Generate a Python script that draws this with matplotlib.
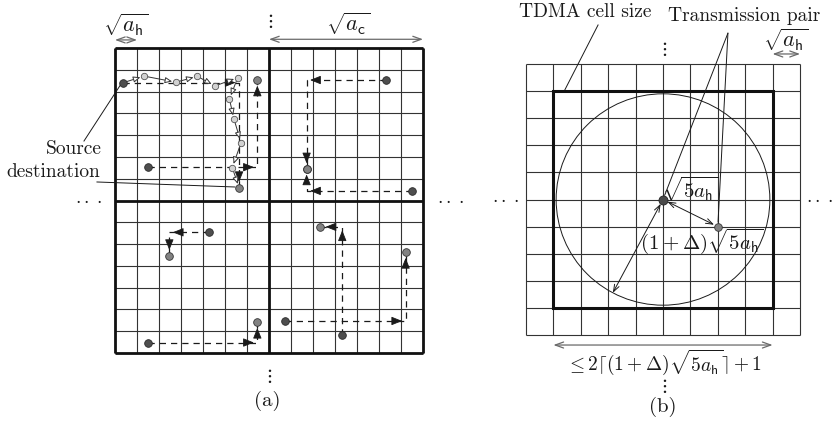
import numpy as np
import matplotlib
matplotlib.use("Agg")
import matplotlib.pyplot as plt
from matplotlib.patches import Circle, Rectangle

plt.rcParams['mathtext.fontset'] = 'cm'
SERIF = 'cmr10'
INK = '#1a1a1a'

W, H = 837, 430

# ---------------- panel (a): 14x14 a_h cells, 2x2 a_c cells ----------------
n_a = 14
split_a = 7
# multihop route of one pair: source, relays, destination (grid units, y down)
hop_x = [0.38, 1.32, 2.77, 3.74, 4.55, 5.58, 5.20, 5.41, 5.73, 5.33, 5.64]
hop_y = [1.59, 1.29, 1.57, 1.30, 1.74, 1.36, 2.34, 3.27, 4.35, 5.49, 6.41]
# L-shaped routes: source -> corner -> destination
routes_a = [
    [(0.38, 1.59), (5.64, 1.59), (5.64, 6.41)],
    [(1.51, 5.47), (6.47, 5.47), (6.47, 1.47)],
    [(12.30, 1.47), (8.71, 1.47), (8.71, 5.55)],
    [(13.49, 6.56), (8.71, 6.56), (8.71, 5.55)],
    [(4.27, 8.46), (2.47, 8.46), (2.47, 9.53)],
    [(1.51, 13.52), (6.47, 13.52), (6.47, 12.59)],
    [(10.33, 13.17), (10.33, 8.21), (9.32, 8.21)],
    [(7.73, 12.53), (13.21, 12.53), (13.21, 9.38)],
]

# ---------------- panel (b): 10x10 a_h cells, TDMA cell ----------------
n_b = 10
tdma_lo, tdma_hi = 1, 9
center_b = (5.0, 5.0)
pair_b = (7.0, 6.0)
radius_b = 3.9
diam_angle = 118.0  # degrees, y pointing down

SRC_C = '#4e4e4e'
DST_C = '#828282'
RELAY_C = '#d2d2d2'
HDOTS = r'$\cdot\cdot\cdot$'

fig = plt.figure(figsize=(W / 100, H / 100), dpi=100)


def add_axes_px(x0, y0, x1, y1, n):
    ax = fig.add_axes([x0 / W, 1 - y1 / H, (x1 - x0) / W, (y1 - y0) / H])
    ax.set_xlim(0, n)
    ax.set_ylim(n, 0)
    ax.set_axis_off()
    return ax


def grid(ax, n, lw=0.8, color='#333333'):
    ticks = np.arange(n + 1)
    ax.vlines(ticks, 0, n, colors=color, lw=lw, clip_on=False, zorder=1)
    ax.hlines(ticks, 0, n, colors=color, lw=lw, clip_on=False, zorder=1)


def head(ax, start, end, shrink=0.0, fc=INK):
    d = np.array(end) - np.array(start)
    d = d / np.hypot(*d)
    tail = np.array(end) - 0.4 * d
    ax.annotate('', xy=end, xytext=tail,
                arrowprops=dict(arrowstyle='-|>,head_length=0.55,head_width=0.22',
                                mutation_scale=12, fc=fc, ec=INK, lw=0.6,
                                shrinkA=0, shrinkB=shrink),
                annotation_clip=False, zorder=4)


def dim_arrow(ax, p0, p1, color='#6a6a6a'):
    ax.annotate('', xy=p1, xytext=p0,
                arrowprops=dict(arrowstyle='<->,head_length=0.5,head_width=0.18',
                                mutation_scale=12, color=color, lw=0.9,
                                shrinkA=0, shrinkB=0),
                annotation_clip=False)


def label(ax, x, y, s, size=14, **kw):
    kw.setdefault('ha', 'center')
    kw.setdefault('va', 'center')
    if not s.startswith('$'):
        kw['family'] = SERIF
    ax.text(x, y, s, fontsize=size, color=INK, clip_on=False, **kw)


# ======================= panel (a) =======================
ax_a = add_axes_px(115, 48, 423, 353, n_a)
grid(ax_a, n_a)
ax_a.vlines([0, split_a, n_a], 0, n_a, colors='#111111', lw=2.0, clip_on=False, zorder=2)
ax_a.hlines([0, split_a, n_a], 0, n_a, colors='#111111', lw=2.0, clip_on=False, zorder=2)

for route in routes_a:
    xs, ys = zip(*route)
    ax_a.plot(xs, ys, ls=(0, (5, 4)), color=INK, lw=0.9, clip_on=False, zorder=3)
    for i in range(len(route) - 1):
        last = i == len(route) - 2
        head(ax_a, route[i], route[i + 1], shrink=4.0 if last else 2.5)
    ax_a.plot(*route[0], 'o', ms=5.5, mfc=SRC_C, mec='#2a2a2a', mew=0.6, clip_on=False, zorder=6)
    ax_a.plot(*route[-1], 'o', ms=5.5, mfc=DST_C, mec='#333333', mew=0.6, clip_on=False, zorder=6)

# multihop relay path
for i in range(len(hop_x) - 1):
    ax_a.annotate('', xy=(hop_x[i + 1], hop_y[i + 1]), xytext=(hop_x[i], hop_y[i]),
                  arrowprops=dict(arrowstyle='-|>,head_length=0.7,head_width=0.3',
                                  mutation_scale=6, fc='white', ec='#333333', lw=0.7,
                                  shrinkA=2.5, shrinkB=2.8),
                  annotation_clip=False, zorder=5)
ax_a.plot(hop_x[1:-1], hop_y[1:-1], 'o', ms=4.6, mfc=RELAY_C, mec='#555555', mew=0.6,
          clip_on=False, zorder=6)

# dimensions
dim_arrow(ax_a, (0, -0.37), (1, -0.37))
label(ax_a, 0.5, -1.05, r'$\sqrt{a_\mathsf{h}}$', size=16)
dim_arrow(ax_a, (split_a, -0.4), (n_a, -0.4))
label(ax_a, 10.6, -1.1, r'$\sqrt{a_\mathsf{c}}$', size=16)

# continuation dots
label(ax_a, split_a, -1.25, r'$\vdots$')
label(ax_a, split_a - 0.05, 15.05, r'$\vdots$')
label(ax_a, -1.23, 6.95, HDOTS)
label(ax_a, 15.25, 6.95, HDOTS)
label(ax_a, split_a - 0.1, 16.2, '(a)', size=15)

# source / destination callout
label(ax_a, -0.62, 4.66, 'Source', ha='right')
label(ax_a, -0.66, 5.68, 'destination', ha='right')
ax_a.plot([-1.41, 0.27], [4.27, 1.66], color=INK, lw=0.7, clip_on=False)
ax_a.plot([-0.82, 5.45], [6.15, 6.38], color=INK, lw=0.7, clip_on=False)

# ======================= panel (b) =======================
ax_b = add_axes_px(526, 64, 800, 335, n_b)
grid(ax_b, n_b)
ax_b.add_patch(Rectangle((tdma_lo, tdma_lo), tdma_hi - tdma_lo, tdma_hi - tdma_lo,
                         fill=False, ec='#111111', lw=2.2, clip_on=False, zorder=2))
ax_b.add_patch(Circle(center_b, radius_b, fill=False, ec=INK, lw=0.7, clip_on=False, zorder=3))

rim = (center_b[0] + radius_b * np.cos(np.radians(diam_angle)),
       center_b[1] + radius_b * np.sin(np.radians(diam_angle)))
ax_b.annotate('', xy=rim, xytext=center_b,
              arrowprops=dict(arrowstyle='<->,head_length=0.5,head_width=0.18',
                              mutation_scale=10, color=INK, lw=0.7,
                              shrinkA=3.5, shrinkB=0),
              annotation_clip=False, zorder=4)
ax_b.annotate('', xy=pair_b, xytext=center_b,
              arrowprops=dict(arrowstyle='<->,head_length=0.5,head_width=0.18',
                              mutation_scale=10, color=INK, lw=0.7,
                              shrinkA=3.5, shrinkB=3.0),
              annotation_clip=False, zorder=4)

# transmission pair callout
tp_anchor = (7.37, -1.14)
for tgt in (center_b, pair_b):
    ax_b.annotate('', xy=tgt, xytext=tp_anchor,
                  arrowprops=dict(arrowstyle='-', color=INK, lw=0.7,
                                  shrinkA=0, shrinkB=3.2),
                  annotation_clip=False, zorder=4)
label(ax_b, 7.96, -1.77, 'Transmission pair')

# TDMA cell callout
ax_b.plot([2.63, 1.42], [-1.44, 0.95], color=INK, lw=0.7, clip_on=False)
label(ax_b, 2.15, -1.93, 'TDMA cell size')

ax_b.plot(*center_b, 'o', ms=6.5, mfc='#4a4a4a', mec='#222222', mew=0.6, clip_on=False, zorder=6)
ax_b.plot(*pair_b, 'o', ms=5.5, mfc=DST_C, mec='#333333', mew=0.6, clip_on=False, zorder=6)

label(ax_b, 6.0, 4.62, r'$\sqrt{5a_\mathsf{h}}$', size=15)
label(ax_b, 6.4, 6.55, r'$(1+\Delta)\sqrt{5a_\mathsf{h}}$', size=15)

# dimensions
dim_arrow(ax_b, (n_b - 1, -0.37), (n_b, -0.37))
label(ax_b, 9.5, -0.88, r'$\sqrt{a_\mathsf{h}}$', size=16)
dim_arrow(ax_b, (tdma_lo, 10.37), (tdma_hi, 10.37))
label(ax_b, 5.05, 11.0, r'$\leq 2\lceil(1+\Delta)\sqrt{5a_\mathsf{h}}\rceil+1$')

label(ax_b, 5.0, -0.57, r'$\vdots$')
label(ax_b, 5.0, 11.85, r'$\vdots$')
label(ax_b, -0.75, 4.95, HDOTS)
label(ax_b, 10.72, 4.95, HDOTS)
label(ax_b, 5.0, 12.65, '(b)', size=15)

fig.savefig('out.png', dpi=100)
